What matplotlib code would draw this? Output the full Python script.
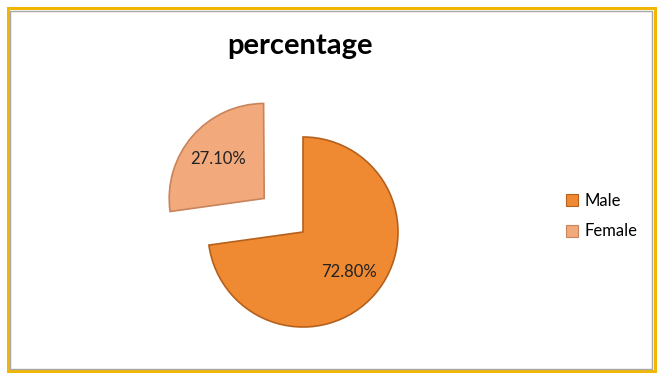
import matplotlib
matplotlib.use("Agg")
import matplotlib.pyplot as plt
from matplotlib.patches import Rectangle
from matplotlib.lines import Line2D

labels = ["Male", "Female"]
values = [0.728, 0.271]
explode = [0.0, 0.54]
colors = ["#EF8A33", "#F2A97C"]
edges = ["#B5601C", "#C8845A"]
title = "percentage"

W, H = 661, 374
fig = plt.figure(figsize=(W / 100, H / 100), dpi=100)
fig.patch.set_facecolor("white")

# border
fig.patches.append(Rectangle((7.5 / W, 1 - 371 / H), 647 / W, 363 / H,
                             transform=fig.transFigure, fill=False,
                             edgecolor="#F2B705", lw=2.2, zorder=0))
fig.patches.append(Rectangle((10 / W, 1 - 368.5 / H), 642 / W, 358 / H,
                             transform=fig.transFigure, fill=False,
                             edgecolor="#A8A8A8", lw=1.0, zorder=0))

# axes so that centre is at (303,232) px and radius 1 = 95 px
cx, cy, R = 303, 232, 95
l, r, t, b = 140, 470, 80, 350
ax = fig.add_axes([l / W, 1 - b / H, (r - l) / W, (b - t) / H])

wedges, texts, autotexts = ax.pie(
    values, explode=explode, colors=colors, startangle=90, counterclock=False,
    normalize=False, autopct="%.2f%%", pctdistance=0.64,
    wedgeprops=dict(linewidth=1.2),
    textprops=dict(fontsize=12, color="#222222", family=["Lato", "DejaVu Sans"]))
for w, e in zip(wedges, edges):
    w.set_edgecolor(e)

ax.set_aspect("equal")
ax.set_xlim(-(cx - l) / R, (r - cx) / R)
ax.set_ylim(-(b - cy) / R, (cy - t) / R)
ax.axis("off")

fig.text(300 / W, 1 - 46 / H, title, ha="center", va="center",
         fontsize=21, fontweight="bold", family=["Lato", "DejaVu Sans"])

handles = [Line2D([], [], marker="s", linestyle="none", markersize=8,
                  markerfacecolor=c, markeredgecolor=e, markeredgewidth=0.8)
           for c, e in zip(colors, edges)]
fig.legend(handles, labels, loc="center left",
           bbox_to_anchor=(549 / W, 1 - 216 / H), frameon=False,
           handletextpad=0.2, labelspacing=0.9, handlelength=1.0,
           prop=dict(family=["Lato", "DejaVu Sans"], size=12))

fig.savefig("out.png", dpi=100, facecolor="white")
